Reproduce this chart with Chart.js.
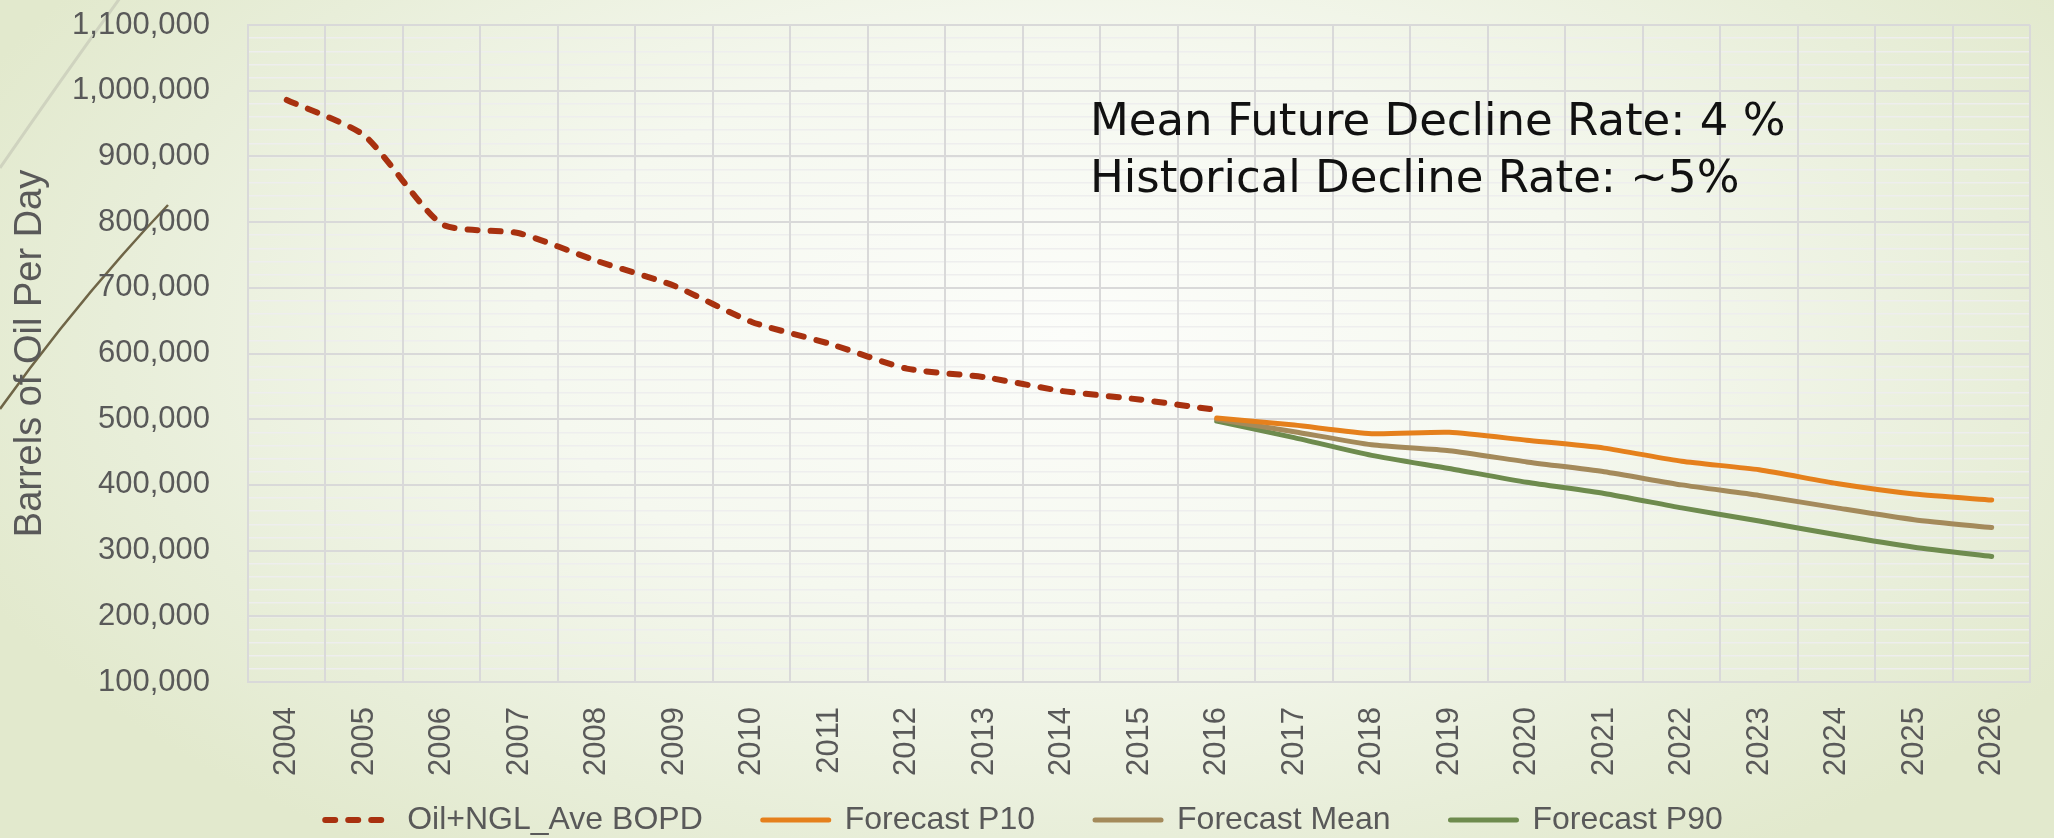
<!DOCTYPE html>
<html>
<head>
<meta charset="utf-8">
<script src="https://cdn.jsdelivr.net/npm/chart.js@4.4.1/dist/chart.umd.min.js"></script>
<style>
  html, body { margin: 0; padding: 0; width: 2054px; height: 838px; overflow: hidden; }
  #wrap {
    position: relative; width: 2054px; height: 838px;
    background:
      radial-gradient(ellipse 58% 75% at 52% 40%, #fcfdfa 0%, #f5f8ef 45%, #e8eed9 80%, #e2e9cd 100%);
  }
  #deco { position: absolute; left: 0; top: 0; }
  #chart { position: absolute; left: 0; top: 0; }
</style>
</head>
<body>
<div id="wrap">
  <svg id="deco" width="2054" height="838" xmlns="http://www.w3.org/2000/svg">
    <path d="M0,168 Q62,78 120,-2" fill="none" stroke="#cfd3bf" stroke-width="3"/>
    <path d="M0,409 Q78,300 168,205" fill="none" stroke="#6f6547" stroke-width="2.5"/>
  </svg>
  <canvas id="chart" width="2054" height="838"></canvas>
</div>
<script>
// ---- data ----
const years = ['2004','2005','2006','2007','2008','2009','2010','2011','2012','2013','2014','2015',
               '2016','2017','2018','2019','2020','2021','2022','2023','2024','2025','2026'];
const oilNglAveBopd = [986000, 932000, 797000, 783000, 741000, 703000, 648000, 615000, 577000, 564000, 543000, 530000,
                       514000, null, null, null, null, null, null, null, null, null, null];
const forecastP10 = [null, null, null, null, null, null, null, null, null, null, null, null,
                     502000, 491000, 478000, 480000, 468000, 456000, 436000, 423000, 402000, 386000, 377000];
const forecastMean = [null, null, null, null, null, null, null, null, null, null, null, null,
                      500000, 481000, 461000, 452000, 435000, 420000, 400000, 384000, 365000, 347000, 335000];
const forecastP90 = [null, null, null, null, null, null, null, null, null, null, null, null,
                     497000, 472000, 445000, 425000, 404000, 387000, 365000, 345000, 324000, 305000, 291000];
const seriesNames = ['Oil+NGL_Ave BOPD', 'Forecast P10', 'Forecast Mean', 'Forecast P90'];
const yAxisTitle = 'Barrels of Oil Per Day';
const noteLines = ['Mean Future Decline Rate: 4 %', 'Historical Decline Rate: ~5%'];
const yMin = 100000, yMax = 1100000, yStep = 100000, yMinorStep = 20000;

// ---- styles ----
const C_OIL = '#a8310f', C_P10 = '#e5801c', C_MEAN = '#a48a5b', C_P90 = '#6e8b4e';
const GRID = '#d9d9d9', MINOR = '#eeeeee', TXT = '#595959';
const FONT = '"Liberation Sans", Arial, sans-serif';

const notePlugin = {
  id: 'note',
  afterDatasetsDraw(chart) {
    const { ctx, chartArea } = chart;
    ctx.save();
    ctx.font = '45px "DejaVu Sans", sans-serif';
    ctx.fillStyle = '#111111';
    ctx.textBaseline = 'alphabetic';
    ctx.textAlign = 'left';
    ctx.fillText(noteLines[0], chartArea.left + 842, chartArea.top + 110);
    ctx.fillText(noteLines[1], chartArea.left + 842, chartArea.top + 167);
    ctx.restore();
  }
};

function lineDs(label, data, color, extra) {
  return Object.assign({
    label, data,
    borderColor: color, backgroundColor: color,
    borderWidth: 5, pointRadius: 0, pointHoverRadius: 0,
    tension: 0.2, fill: false, spanGaps: false,
    borderCapStyle: 'round', borderJoinStyle: 'round'
  }, extra || {});
}

new Chart(document.getElementById('chart'), {
  type: 'line',
  data: {
    labels: years,
    datasets: [
      lineDs(seriesNames[0], oilNglAveBopd, C_OIL, { borderWidth: 6, borderDash: [10, 13] }),
      lineDs(seriesNames[1], forecastP10, C_P10),
      lineDs(seriesNames[2], forecastMean, C_MEAN),
      lineDs(seriesNames[3], forecastP90, C_P90)
    ]
  },
  options: {
    responsive: false,
    animation: false,
    devicePixelRatio: 1,
    layout: { padding: { left: 0, right: 6, top: 25, bottom: -8 } },
    plugins: {
      legend: {
        position: 'bottom',
        labels: {
          usePointStyle: true,
          pointStyle: 'line',
          pointStyleWidth: 66,
          boxHeight: 32,
          padding: 60,
          color: TXT,
          font: { family: FONT, size: 32 },
          generateLabels: (chart) => {
            const items = Chart.defaults.plugins.legend.labels.generateLabels(chart);
            items.forEach((it) => {
              const ds = chart.data.datasets[it.datasetIndex];
              it.lineDash = ds.borderDash || [];
              it.lineWidth = ds.borderWidth;
              it.lineCap = 'round';
              it.strokeStyle = ds.borderColor;
              it.fillStyle = ds.borderColor;
              it.pointStyle = 'line';
            });
            return items;
          }
        }
      },
      tooltip: { enabled: false }
    },
    scales: {
      x: {
        type: 'category',
        offset: true,
        grid: { offset: true, color: GRID, lineWidth: 2, drawTicks: false },
        border: { color: GRID, width: 2 },
        ticks: {
          autoSkip: false, minRotation: 90, maxRotation: 90,
          padding: 25, color: TXT, font: { family: FONT, size: 31 }
        },
        afterFit: (s) => { s.height = 62; s._computeLabelArea = () => null; }
      },
      y: {
        type: 'linear',
        position: 'left',
        min: yMin, max: yMax,
        grid: { color: GRID, lineWidth: 2, drawTicks: false },
        border: { color: GRID, width: 2 },
        ticks: {
          stepSize: yStep, padding: 38, color: TXT,
          font: { family: FONT, size: 31 },
          callback: (v) => Number(v).toLocaleString('en-US')
        },
        title: {
          display: true, text: yAxisTitle, color: TXT,
          font: { family: FONT, size: 38 },
          padding: { top: 8, bottom: 0 }
        },
        afterFit: (s) => { s.width = 248; s.paddingTop = 0; s.paddingBottom = 0; }
      },
      yMinor: {
        type: 'linear',
        position: 'left',
        min: yMin, max: yMax,
        grid: { color: MINOR, lineWidth: 1.5, drawTicks: false, z: -2 },
        border: { display: false },
        ticks: { stepSize: yMinorStep, display: false },
        afterFit: (s) => { s.width = 0; s.paddingTop = 0; s.paddingBottom = 0; }
      }
    }
  },
  plugins: [notePlugin]
});
</script>
</body>
</html>
